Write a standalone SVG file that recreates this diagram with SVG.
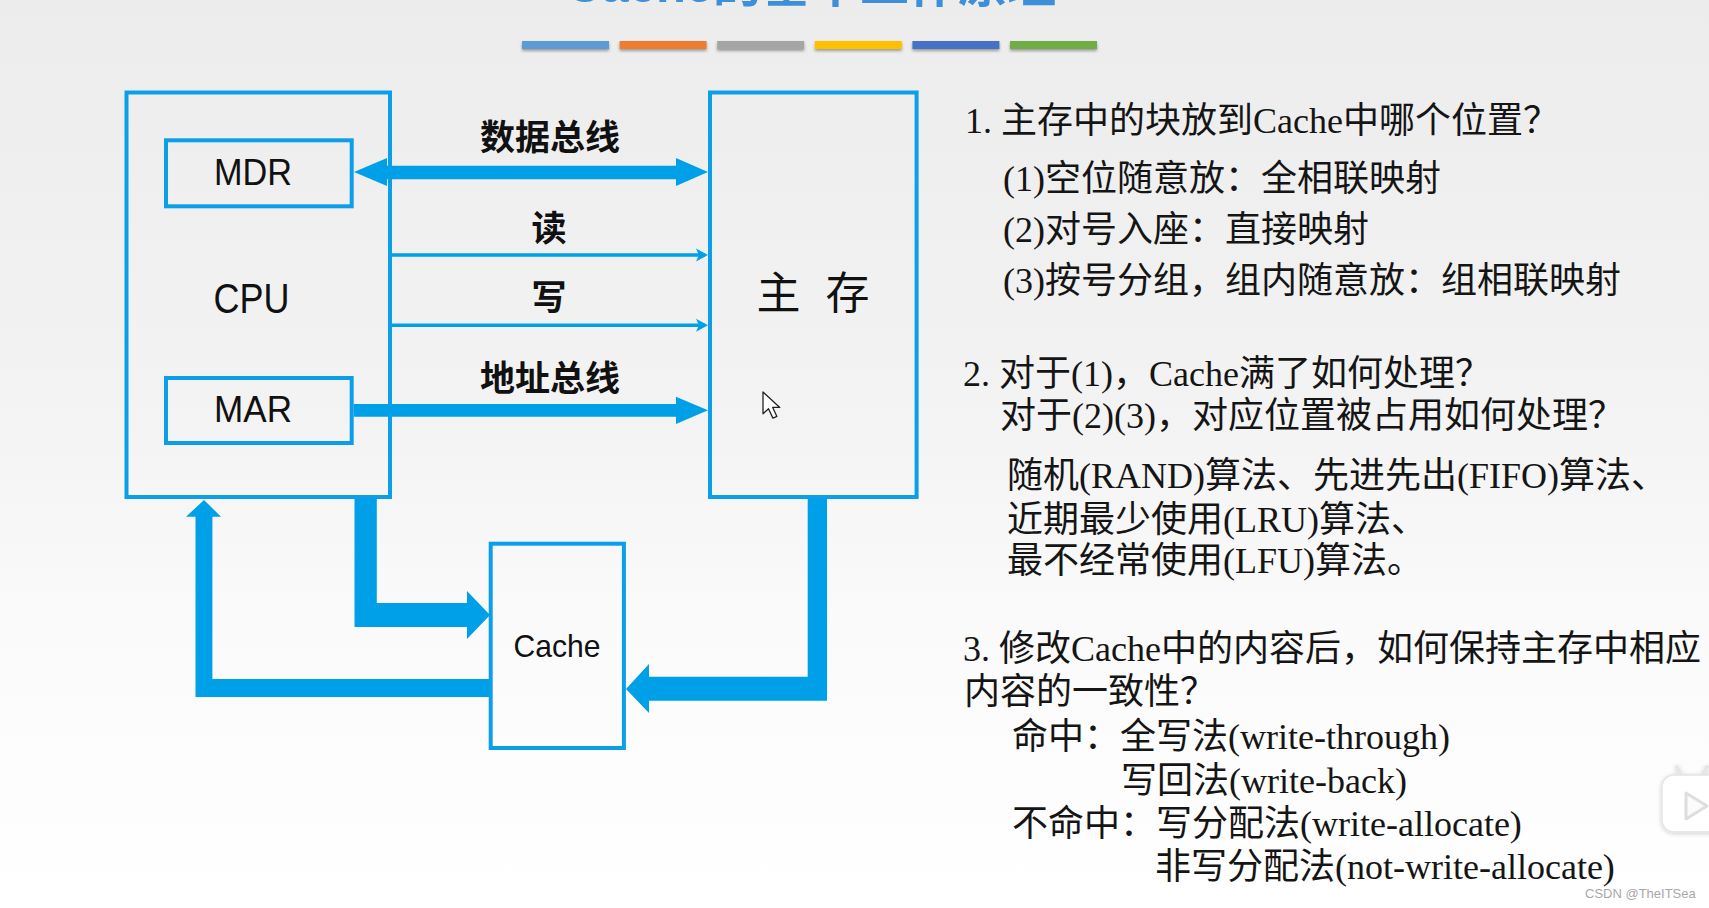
<svg xmlns="http://www.w3.org/2000/svg" width="1709" height="908" viewBox="0 0 1709 908">
  <defs>
    <linearGradient id="bg" x1="0" y1="0" x2="0" y2="1">
      <stop offset="0" stop-color="#ececec"/>
      <stop offset="0.45" stop-color="#f3f3f3"/>
      <stop offset="0.68" stop-color="#fafafa"/>
      <stop offset="1" stop-color="#ffffff"/>
    </linearGradient>
    <filter id="shadow" x="-10%" y="-50%" width="120%" height="250%">
      <feDropShadow dx="0" dy="2" stdDeviation="1.5" flood-color="#000" flood-opacity="0.35"/>
    </filter>
    <filter id="iconShadow" x="-20%" y="-20%" width="140%" height="140%">
      <feDropShadow dx="0" dy="1" stdDeviation="2" flood-color="#000" flood-opacity="0.18"/>
    </filter>
    <style>
      .box { fill: none; stroke: #0a9fe8; stroke-width: 4; }
      .arrow { fill: #00a0e9; }
      .thin { stroke: #00a0e9; stroke-width: 3.5; fill: none; }
      .lbl { font-family: "Noto Sans CJK SC", "Liberation Sans", sans-serif; font-size: 35px; font-weight: bold; fill: #111; text-anchor: middle; }
      .reg { font-family: "Liberation Sans", "Noto Sans CJK SC", sans-serif; fill: #111; text-anchor: middle; }
      .mem { font-family: "Noto Sans CJK SC", sans-serif; font-size: 44px; fill: #111; text-anchor: middle; }
      .txt { font-family: "Liberation Serif", "Noto Sans CJK SC", serif; font-size: 36px; fill: #151515; }
      .bar { filter: url(#shadow); }
    </style>
  </defs>

  <rect x="0" y="0" width="1709" height="908" fill="url(#bg)"/>

  <!-- title (cut off at top, as in the picture) -->
  <text x="566" y="2" font-family="Liberation Sans, Noto Sans CJK SC, sans-serif" font-size="49" font-weight="bold" fill="#3f8fd8">Cache的基本工作原理</text>

  <!-- colour bars -->
  <g id="bars">
    <rect class="bar" x="522" y="41" width="87" height="8" fill="#5b9bd5"/>
    <rect class="bar" x="619.6" y="41" width="87" height="8" fill="#ed7d31"/>
    <rect class="bar" x="717.2" y="41" width="87" height="8" fill="#a5a5a5"/>
    <rect class="bar" x="814.8" y="41" width="87" height="8" fill="#ffc000"/>
    <rect class="bar" x="912.4" y="41" width="87" height="8" fill="#4472c4"/>
    <rect class="bar" x="1010" y="41" width="87" height="8" fill="#70ad47"/>
  </g>

  <!-- nodes -->
  <g id="node-cpu">
    <rect class="box" x="126.5" y="92.5" width="263.5" height="404.5"/>
    <text class="reg" x="251.5" y="313" font-size="43" textLength="76" lengthAdjust="spacingAndGlyphs">CPU</text>
  </g>
  <g id="node-mdr">
    <rect class="box" x="166" y="140.3" width="185.7" height="66"/>
    <text class="reg" x="253" y="185" font-size="37" textLength="78" lengthAdjust="spacingAndGlyphs">MDR</text>
  </g>
  <g id="node-mar">
    <rect class="box" x="166" y="378" width="185.7" height="65"/>
    <text class="reg" x="253" y="422" font-size="37" textLength="78" lengthAdjust="spacingAndGlyphs">MAR</text>
  </g>
  <g id="node-memory">
    <rect class="box" x="710" y="92.5" width="206.6" height="404.5"/>
    <text class="mem" x="778.5" y="308.5">主</text>
    <text class="mem" x="847.5" y="308.5">存</text>
  </g>
  <g id="node-cache">
    <rect class="box" x="490.7" y="543.7" width="133.2" height="204.3" fill="#fdfdfd"/>
    <text class="reg" x="557" y="656.5" font-size="32" textLength="87" lengthAdjust="spacingAndGlyphs">Cache</text>
  </g>

  <!-- connectors -->
  <g id="connectors">
    <!-- data bus (double headed) -->
    <polygon class="arrow" points="354,172 387,158 387,165.7 676,165.7 676,158 708,172 676,186 676,179.3 387,179.3 387,186"/>
    <!-- read -->
    <line class="thin" x1="392" y1="255" x2="705" y2="255"/>
    <polygon class="arrow" points="696,248.5 708,255 696,261.5 699,255"/>
    <!-- write -->
    <line class="thin" x1="392" y1="325.3" x2="705" y2="325.3"/>
    <polygon class="arrow" points="696,318.8 708,325.3 696,331.8 699,325.3"/>
    <!-- address bus -->
    <polygon class="arrow" points="353.7,404 676,404 676,396.7 708,410.3 676,424 676,416.7 353.7,416.7"/>
    <!-- CPU -> Cache -->
    <polygon class="arrow" points="354.5,499 376.8,499 376.8,603 467,603 467,591 490,615 467,639 467,627 354.5,627"/>
    <!-- Cache -> CPU -->
    <polygon class="arrow" points="490,679 212.4,679 212.4,516.7 221,516.7 204,500 186,516.7 195.5,516.7 195.5,697 490,697"/>
    <!-- Memory -> Cache -->
    <polygon class="arrow" points="807.7,499 827,499 827,700.7 649,700.7 649,713 626,689 649,664 649,676.7 807.7,676.7"/>

    <text class="lbl" x="550" y="150">数据总线</text>
    <text class="lbl" x="549" y="241">读</text>
    <text class="lbl" x="549" y="310">写</text>
    <text class="lbl" x="550" y="391">地址总线</text>
  </g>

  <!-- mouse cursor -->
  <polygon points="763,392 763,413.8 768.5,408.8 772.9,418.1 776.9,416.4 772.7,407.4 779.8,407.4" fill="#fff" stroke="#222" stroke-width="1.3" stroke-linejoin="round"/>

  <!-- right-hand text -->
  <g id="notes">
    <text class="txt" x="965" y="133">1. 主存中的块放到Cache中哪个位置？</text>
    <text class="txt" x="1003" y="190.5">(1)空位随意放：全相联映射</text>
    <text class="txt" x="1003" y="241.5">(2)对号入座：直接映射</text>
    <text class="txt" x="1003" y="292.5">(3)按号分组，组内随意放：组相联映射</text>
    <text class="txt" x="963" y="385.5">2. 对于(1)，Cache满了如何处理？</text>
    <text class="txt" x="1000" y="427.5">对于(2)(3)，对应位置被占用如何处理？</text>
    <text class="txt" x="1007" y="488">随机(RAND)算法、先进先出(FIFO)算法、</text>
    <text class="txt" x="1007" y="531.5">近期最少使用(LRU)算法、</text>
    <text class="txt" x="1007" y="572.5">最不经常使用(LFU)算法。</text>
    <text class="txt" x="963" y="661">3. 修改Cache中的内容后，如何保持主存中相应</text>
    <text class="txt" x="964" y="704">内容的一致性？</text>
    <text class="txt" x="1012" y="749">命中：全写法(write-through)</text>
    <text class="txt" x="1121" y="792.5">写回法(write-back)</text>
    <text class="txt" x="1012" y="836">不命中：写分配法(write-allocate)</text>
    <text class="txt" x="1155" y="879">非写分配法(not-write-allocate)</text>
  </g>

  <!-- partial video icon at right edge -->
  <g id="icon" filter="url(#iconShadow)">
    <line x1="1681" y1="776" x2="1677" y2="767" stroke="#e6e6e6" stroke-width="4" stroke-linecap="round"/>
    <line x1="1702" y1="776" x2="1707" y2="767" stroke="#e6e6e6" stroke-width="4" stroke-linecap="round"/>
    <rect x="1662" y="775" width="70" height="57" rx="12" fill="#ffffff" stroke="#e4e4e4" stroke-width="1.5"/>
    <polygon points="1686,793 1707,806 1686,819" fill="#fbfbfb" stroke="#dedede" stroke-width="3" stroke-linejoin="round"/>
  </g>

  <!-- watermark -->
  <text x="1585" y="898" font-family="Liberation Sans, sans-serif" font-size="13" fill="#a8a8a8">CSDN @TheITSea</text>
</svg>
